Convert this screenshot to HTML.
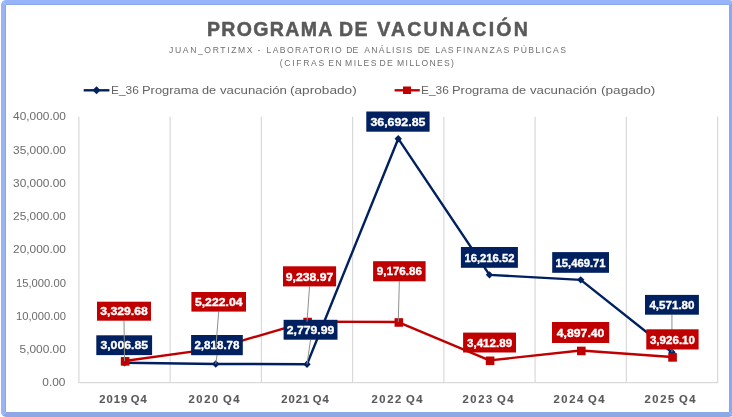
<!DOCTYPE html>
<html><head><meta charset="utf-8"><style>
html,body{margin:0;padding:0;background:#fff;}
body{width:732px;height:417px;position:relative;overflow:hidden;font-family:"Liberation Sans",sans-serif;}
.frame{position:absolute;left:0.7px;top:-0.3px;width:733.6px;height:417.3px;box-sizing:border-box;border:4.8px solid #96b3f9;border-color:#97b4fb #8aa9ee #8fa8e4 #98b4f6;border-radius:5px;box-shadow:inset 0 0 0 1px #89a7e8;}
</style></head><body>
<div style="position:absolute;left:0;top:0;width:732px;height:417px;will-change:transform"><svg width="732" height="417" style="position:absolute;left:0;top:0"><line x1="78.90" y1="116.7" x2="78.90" y2="382.7" stroke="#d9d9d9" stroke-width="1.2"/><line x1="170.14" y1="116.7" x2="170.14" y2="382.7" stroke="#d9d9d9" stroke-width="1.2"/><line x1="261.38" y1="116.7" x2="261.38" y2="382.7" stroke="#d9d9d9" stroke-width="1.2"/><line x1="352.62" y1="116.7" x2="352.62" y2="382.7" stroke="#d9d9d9" stroke-width="1.2"/><line x1="443.86" y1="116.7" x2="443.86" y2="382.7" stroke="#d9d9d9" stroke-width="1.2"/><line x1="535.10" y1="116.7" x2="535.10" y2="382.7" stroke="#d9d9d9" stroke-width="1.2"/><line x1="626.34" y1="116.7" x2="626.34" y2="382.7" stroke="#d9d9d9" stroke-width="1.2"/><line x1="717.58" y1="116.7" x2="717.58" y2="382.7" stroke="#d9d9d9" stroke-width="1.2"/><line x1="78.30" y1="382.7" x2="718.18" y2="382.7" stroke="#d9d9d9" stroke-width="1.2"/><polyline points="124.52,362.70 215.76,363.96 307.00,364.21 398.24,138.69 489.48,274.86 580.72,279.83 671.96,352.30" fill="none" stroke="#002060" stroke-width="2.4" stroke-linejoin="round"/><path d="M124.52,359.00 L128.22,362.70 L124.52,366.40 L120.82,362.70 Z" fill="#002060"/><path d="M215.76,360.26 L219.46,363.96 L215.76,367.66 L212.06,363.96 Z" fill="#002060"/><path d="M307.00,360.51 L310.70,364.21 L307.00,367.91 L303.30,364.21 Z" fill="#002060"/><path d="M398.24,134.99 L401.94,138.69 L398.24,142.39 L394.54,138.69 Z" fill="#002060"/><path d="M489.48,271.16 L493.18,274.86 L489.48,278.56 L485.78,274.86 Z" fill="#002060"/><path d="M580.72,276.13 L584.42,279.83 L580.72,283.53 L577.02,279.83 Z" fill="#002060"/><path d="M671.96,348.60 L675.66,352.30 L671.96,356.00 L668.26,352.30 Z" fill="#002060"/><polyline points="124.52,360.96 215.76,348.37 307.00,321.66 398.24,322.07 489.48,360.40 580.72,350.53 671.96,356.99" fill="none" stroke="#c00000" stroke-width="2.4" stroke-linejoin="round"/><rect x="120.82" y="357.06" width="8.60" height="8.60" fill="#c00000"/><rect x="212.06" y="344.47" width="8.60" height="8.60" fill="#c00000"/><rect x="303.30" y="317.76" width="8.60" height="8.60" fill="#c00000"/><rect x="394.54" y="318.17" width="8.60" height="8.60" fill="#c00000"/><rect x="485.78" y="356.50" width="8.60" height="8.60" fill="#c00000"/><rect x="577.02" y="346.63" width="8.60" height="8.60" fill="#c00000"/><rect x="668.26" y="353.09" width="8.60" height="8.60" fill="#c00000"/><line x1="216.95" y1="355.20" x2="215.76" y2="363.96" stroke="#8f8f8f" stroke-width="1"/><line x1="310.55" y1="339.70" x2="307.00" y2="364.21" stroke="#8f8f8f" stroke-width="1"/><line x1="671.95" y1="314.70" x2="671.96" y2="352.30" stroke="#8f8f8f" stroke-width="1"/><rect x="96.30" y="335.30" width="55.80" height="19.80" fill="#002060"/><text x="124.20" y="349.40" text-anchor="middle" font-family="Liberation Sans" font-weight="bold" font-size="11" fill="#fff" stroke="#fff" stroke-width="0.35" textLength="47.60" lengthAdjust="spacingAndGlyphs">3,006.85</text><rect x="191.10" y="335.00" width="51.70" height="20.20" fill="#002060"/><text x="216.95" y="349.30" text-anchor="middle" font-family="Liberation Sans" font-weight="bold" font-size="11" fill="#fff" stroke="#fff" stroke-width="0.35" textLength="45.10" lengthAdjust="spacingAndGlyphs">2,818.78</text><rect x="283.60" y="319.80" width="53.90" height="19.90" fill="#002060"/><text x="310.55" y="333.95" text-anchor="middle" font-family="Liberation Sans" font-weight="bold" font-size="11" fill="#fff" stroke="#fff" stroke-width="0.35" textLength="47.60" lengthAdjust="spacingAndGlyphs">2,779.99</text><rect x="366.30" y="111.50" width="63.30" height="20.20" fill="#002060"/><text x="397.95" y="125.80" text-anchor="middle" font-family="Liberation Sans" font-weight="bold" font-size="11" fill="#fff" stroke="#fff" stroke-width="0.35" textLength="55.00" lengthAdjust="spacingAndGlyphs">36,692.85</text><rect x="460.90" y="247.00" width="57.00" height="20.80" fill="#002060"/><text x="489.40" y="261.60" text-anchor="middle" font-family="Liberation Sans" font-weight="bold" font-size="11" fill="#fff" stroke="#fff" stroke-width="0.35" textLength="50.00" lengthAdjust="spacingAndGlyphs">16,216.52</text><rect x="552.20" y="252.10" width="56.80" height="20.70" fill="#002060"/><text x="580.60" y="266.65" text-anchor="middle" font-family="Liberation Sans" font-weight="bold" font-size="11" fill="#fff" stroke="#fff" stroke-width="0.35" textLength="50.00" lengthAdjust="spacingAndGlyphs">15,469.71</text><rect x="645.00" y="294.90" width="53.90" height="19.80" fill="#002060"/><text x="671.95" y="309.00" text-anchor="middle" font-family="Liberation Sans" font-weight="bold" font-size="11" fill="#fff" stroke="#fff" stroke-width="0.35" textLength="45.10" lengthAdjust="spacingAndGlyphs">4,571.80</text><line x1="124.00" y1="320.70" x2="124.52" y2="360.96" stroke="#8f8f8f" stroke-width="1"/><line x1="218.70" y1="311.60" x2="215.76" y2="348.37" stroke="#8f8f8f" stroke-width="1"/><line x1="309.55" y1="286.40" x2="307.00" y2="321.66" stroke="#8f8f8f" stroke-width="1"/><line x1="399.35" y1="281.30" x2="398.24" y2="322.07" stroke="#8f8f8f" stroke-width="1"/><rect x="97.00" y="301.70" width="54.00" height="19.00" fill="#c00000"/><text x="124.00" y="315.40" text-anchor="middle" font-family="Liberation Sans" font-weight="bold" font-size="11" fill="#fff" stroke="#fff" stroke-width="0.35" textLength="47.60" lengthAdjust="spacingAndGlyphs">3,329.68</text><rect x="191.40" y="292.00" width="54.60" height="19.60" fill="#c00000"/><text x="218.70" y="306.00" text-anchor="middle" font-family="Liberation Sans" font-weight="bold" font-size="11" fill="#fff" stroke="#fff" stroke-width="0.35" textLength="47.60" lengthAdjust="spacingAndGlyphs">5,222.04</text><rect x="283.00" y="266.30" width="53.10" height="20.10" fill="#c00000"/><text x="309.55" y="280.55" text-anchor="middle" font-family="Liberation Sans" font-weight="bold" font-size="11" fill="#fff" stroke="#fff" stroke-width="0.35" textLength="47.60" lengthAdjust="spacingAndGlyphs">9,238.97</text><rect x="373.10" y="261.20" width="52.50" height="20.10" fill="#c00000"/><text x="399.35" y="275.45" text-anchor="middle" font-family="Liberation Sans" font-weight="bold" font-size="11" fill="#fff" stroke="#fff" stroke-width="0.35" textLength="45.10" lengthAdjust="spacingAndGlyphs">9,176.86</text><rect x="463.10" y="332.60" width="52.90" height="19.90" fill="#c00000"/><text x="489.55" y="346.75" text-anchor="middle" font-family="Liberation Sans" font-weight="bold" font-size="11" fill="#fff" stroke="#fff" stroke-width="0.35" textLength="45.10" lengthAdjust="spacingAndGlyphs">3,412.89</text><rect x="552.00" y="322.00" width="57.20" height="21.00" fill="#c00000"/><text x="580.60" y="336.70" text-anchor="middle" font-family="Liberation Sans" font-weight="bold" font-size="11" fill="#fff" stroke="#fff" stroke-width="0.35" textLength="47.60" lengthAdjust="spacingAndGlyphs">4,897.40</text><rect x="646.30" y="329.30" width="52.30" height="20.20" fill="#c00000"/><text x="672.45" y="343.60" text-anchor="middle" font-family="Liberation Sans" font-weight="bold" font-size="11" fill="#fff" stroke="#fff" stroke-width="0.35" textLength="45.10" lengthAdjust="spacingAndGlyphs">3,926.10</text><line x1="83.7" y1="90.3" x2="109.4" y2="90.3" stroke="#002060" stroke-width="2.4"/><path d="M96.5,86.3 L100.5,90.3 L96.5,94.3 L92.5,90.3 Z" fill="#002060"/><line x1="394.6" y1="90.3" x2="419.8" y2="90.3" stroke="#c00000" stroke-width="2.4"/><rect x="403" y="86.5" width="8" height="7.5" fill="#c00000"/></svg>
<div style="position:absolute;left:207.0px;top:28.5px;font-size:19.5px;font-weight:bold;letter-spacing:1.35px;word-spacing:0px;color:#595959;white-space:pre;line-height:0;-webkit-text-stroke:0.5px #595959;">PROGRAMA</div><div style="position:absolute;left:339.0px;top:28.5px;font-size:19.5px;font-weight:bold;letter-spacing:1.35px;word-spacing:0px;color:#595959;white-space:pre;line-height:0;-webkit-text-stroke:0.5px #595959;">DE</div><div style="position:absolute;left:377.2px;top:28.5px;font-size:19.5px;font-weight:bold;letter-spacing:2.2px;word-spacing:0px;color:#595959;white-space:pre;line-height:0;-webkit-text-stroke:0.5px #595959;">VACUNACIÓN</div><div style="position:absolute;left:169.1px;top:50.1px;font-size:8.6px;font-weight:normal;letter-spacing:1.61px;word-spacing:0px;color:#707070;white-space:pre;line-height:0;">JUAN_ORTIZMX</div><div style="position:absolute;left:257.6px;top:50.1px;font-size:8.6px;font-weight:normal;letter-spacing:0px;word-spacing:0px;color:#707070;white-space:pre;line-height:0;">-</div><div style="position:absolute;left:266.6px;top:50.1px;font-size:8.6px;font-weight:normal;letter-spacing:1.37px;word-spacing:0px;color:#707070;white-space:pre;line-height:0;">LABORATORIO</div><div style="position:absolute;left:346.2px;top:50.1px;font-size:8.6px;font-weight:normal;letter-spacing:0.2px;word-spacing:0px;color:#707070;white-space:pre;line-height:0;">DE</div><div style="position:absolute;left:364.3px;top:50.1px;font-size:8.6px;font-weight:normal;letter-spacing:1.31px;word-spacing:0px;color:#707070;white-space:pre;line-height:0;">ANÁLISIS</div><div style="position:absolute;left:417.7px;top:50.1px;font-size:8.6px;font-weight:normal;letter-spacing:0.0px;word-spacing:0px;color:#707070;white-space:pre;line-height:0;">DE</div><div style="position:absolute;left:435.2px;top:50.1px;font-size:8.6px;font-weight:normal;letter-spacing:1.0px;word-spacing:0px;color:#707070;white-space:pre;line-height:0;">LAS</div><div style="position:absolute;left:456.2px;top:50.1px;font-size:8.6px;font-weight:normal;letter-spacing:1.51px;word-spacing:0px;color:#707070;white-space:pre;line-height:0;">FINANZAS</div><div style="position:absolute;left:513.6px;top:50.1px;font-size:8.6px;font-weight:normal;letter-spacing:1.4px;word-spacing:0px;color:#707070;white-space:pre;line-height:0;">PÚBLICAS</div><div style="position:absolute;left:279.7px;top:62.9px;font-size:8.6px;font-weight:normal;letter-spacing:1.7px;word-spacing:0px;color:#707070;white-space:pre;line-height:0;">(CIFRAS</div><div style="position:absolute;left:328.2px;top:62.9px;font-size:8.6px;font-weight:normal;letter-spacing:1.5px;word-spacing:0px;color:#707070;white-space:pre;line-height:0;">EN</div><div style="position:absolute;left:345.1px;top:62.9px;font-size:8.6px;font-weight:normal;letter-spacing:1.4px;word-spacing:0px;color:#707070;white-space:pre;line-height:0;">MILES</div><div style="position:absolute;left:379.5px;top:62.9px;font-size:8.6px;font-weight:normal;letter-spacing:1.4px;word-spacing:0px;color:#707070;white-space:pre;line-height:0;">DE</div><div style="position:absolute;left:397.1px;top:62.9px;font-size:8.6px;font-weight:normal;letter-spacing:1.31px;word-spacing:0px;color:#707070;white-space:pre;line-height:0;">MILLONES)</div><div style="position:absolute;left:110.85px;top:91.1px;font-size:10px;font-weight:normal;letter-spacing:0px;word-spacing:0px;color:#636363;white-space:pre;line-height:0;transform:scaleX(1.19);transform-origin:0 0;">E_36</div><div style="position:absolute;left:141.57px;top:91.1px;font-size:10px;font-weight:normal;letter-spacing:0px;word-spacing:0px;color:#636363;white-space:pre;line-height:0;transform:scaleX(1.288);transform-origin:0 0;">Programa</div><div style="position:absolute;left:201.89px;top:91.1px;font-size:10px;font-weight:normal;letter-spacing:0px;word-spacing:0px;color:#636363;white-space:pre;line-height:0;transform:scaleX(1.272);transform-origin:0 0;">de</div><div style="position:absolute;left:219.9px;top:91.1px;font-size:10px;font-weight:normal;letter-spacing:0px;word-spacing:0px;color:#636363;white-space:pre;line-height:0;transform:scaleX(1.322);transform-origin:0 0;">vacunación</div><div style="position:absolute;left:290.18px;top:91.1px;font-size:10px;font-weight:normal;letter-spacing:0px;word-spacing:0px;color:#636363;white-space:pre;line-height:0;transform:scaleX(1.363);transform-origin:0 0;">(aprobado)</div><div style="position:absolute;left:421.05px;top:91.1px;font-size:10px;font-weight:normal;letter-spacing:0px;word-spacing:0px;color:#636363;white-space:pre;line-height:0;transform:scaleX(1.19);transform-origin:0 0;">E_36</div><div style="position:absolute;left:451.77px;top:91.1px;font-size:10px;font-weight:normal;letter-spacing:0px;word-spacing:0px;color:#636363;white-space:pre;line-height:0;transform:scaleX(1.288);transform-origin:0 0;">Programa</div><div style="position:absolute;left:512.09px;top:91.1px;font-size:10px;font-weight:normal;letter-spacing:0px;word-spacing:0px;color:#636363;white-space:pre;line-height:0;transform:scaleX(1.272);transform-origin:0 0;">de</div><div style="position:absolute;left:530.1px;top:91.1px;font-size:10px;font-weight:normal;letter-spacing:0px;word-spacing:0px;color:#636363;white-space:pre;line-height:0;transform:scaleX(1.322);transform-origin:0 0;">vacunación</div><div style="position:absolute;left:600.69px;top:91.1px;font-size:10px;font-weight:normal;letter-spacing:0px;word-spacing:0px;color:#636363;white-space:pre;line-height:0;transform:scaleX(1.358);transform-origin:0 0;">(pagado)</div><div style="position:absolute;right:666.1px;top:382.30px;font-size:11px;color:#6b6b6b;white-space:pre;line-height:0;transform:scaleX(1.08);transform-origin:100% 0;">0.00</div><div style="position:absolute;right:666.1px;top:349.05px;font-size:11px;color:#6b6b6b;white-space:pre;line-height:0;transform:scaleX(1.08);transform-origin:100% 0;">5,000.00</div><div style="position:absolute;right:666.1px;top:315.80px;font-size:11px;color:#6b6b6b;white-space:pre;line-height:0;transform:scaleX(1.02);transform-origin:100% 0;">10,000.00</div><div style="position:absolute;right:666.1px;top:282.55px;font-size:11px;color:#6b6b6b;white-space:pre;line-height:0;transform:scaleX(1.02);transform-origin:100% 0;">15,000.00</div><div style="position:absolute;right:666.1px;top:249.30px;font-size:11px;color:#6b6b6b;white-space:pre;line-height:0;transform:scaleX(1.08);transform-origin:100% 0;">20,000.00</div><div style="position:absolute;right:666.1px;top:216.05px;font-size:11px;color:#6b6b6b;white-space:pre;line-height:0;transform:scaleX(1.08);transform-origin:100% 0;">25,000.00</div><div style="position:absolute;right:666.1px;top:182.80px;font-size:11px;color:#6b6b6b;white-space:pre;line-height:0;transform:scaleX(1.08);transform-origin:100% 0;">30,000.00</div><div style="position:absolute;right:666.1px;top:149.55px;font-size:11px;color:#6b6b6b;white-space:pre;line-height:0;transform:scaleX(1.08);transform-origin:100% 0;">35,000.00</div><div style="position:absolute;right:666.1px;top:116.30px;font-size:11px;color:#6b6b6b;white-space:pre;line-height:0;transform:scaleX(1.08);transform-origin:100% 0;">40,000.00</div><div style="position:absolute;left:62.92px;width:120px;text-align:center;top:399.7px;font-size:10px;font-weight:bold;letter-spacing:0.95px;word-spacing:-1.6px;text-indent:0.95px;color:#595959;white-space:pre;line-height:0;transform:scaleX(1.12);-webkit-text-stroke:0.12px #595959;">2019 Q4</div><div style="position:absolute;left:154.16px;width:120px;text-align:center;top:399.7px;font-size:10px;font-weight:bold;letter-spacing:1.45px;word-spacing:-1.6px;text-indent:1.45px;color:#595959;white-space:pre;line-height:0;transform:scaleX(1.12);-webkit-text-stroke:0.12px #595959;">2020 Q4</div><div style="position:absolute;left:245.40px;width:120px;text-align:center;top:399.7px;font-size:10px;font-weight:bold;letter-spacing:0.95px;word-spacing:-1.6px;text-indent:0.95px;color:#595959;white-space:pre;line-height:0;transform:scaleX(1.12);-webkit-text-stroke:0.12px #595959;">2021 Q4</div><div style="position:absolute;left:336.64px;width:120px;text-align:center;top:399.7px;font-size:10px;font-weight:bold;letter-spacing:1.45px;word-spacing:-1.6px;text-indent:1.45px;color:#595959;white-space:pre;line-height:0;transform:scaleX(1.12);-webkit-text-stroke:0.12px #595959;">2022 Q4</div><div style="position:absolute;left:427.88px;width:120px;text-align:center;top:399.7px;font-size:10px;font-weight:bold;letter-spacing:1.45px;word-spacing:-1.6px;text-indent:1.45px;color:#595959;white-space:pre;line-height:0;transform:scaleX(1.12);-webkit-text-stroke:0.12px #595959;">2023 Q4</div><div style="position:absolute;left:519.12px;width:120px;text-align:center;top:399.7px;font-size:10px;font-weight:bold;letter-spacing:1.45px;word-spacing:-1.6px;text-indent:1.45px;color:#595959;white-space:pre;line-height:0;transform:scaleX(1.12);-webkit-text-stroke:0.12px #595959;">2024 Q4</div><div style="position:absolute;left:610.36px;width:120px;text-align:center;top:399.7px;font-size:10px;font-weight:bold;letter-spacing:1.45px;word-spacing:-1.6px;text-indent:1.45px;color:#595959;white-space:pre;line-height:0;transform:scaleX(1.12);-webkit-text-stroke:0.12px #595959;">2025 Q4</div></div>
<div class="frame"></div>
</body></html>
